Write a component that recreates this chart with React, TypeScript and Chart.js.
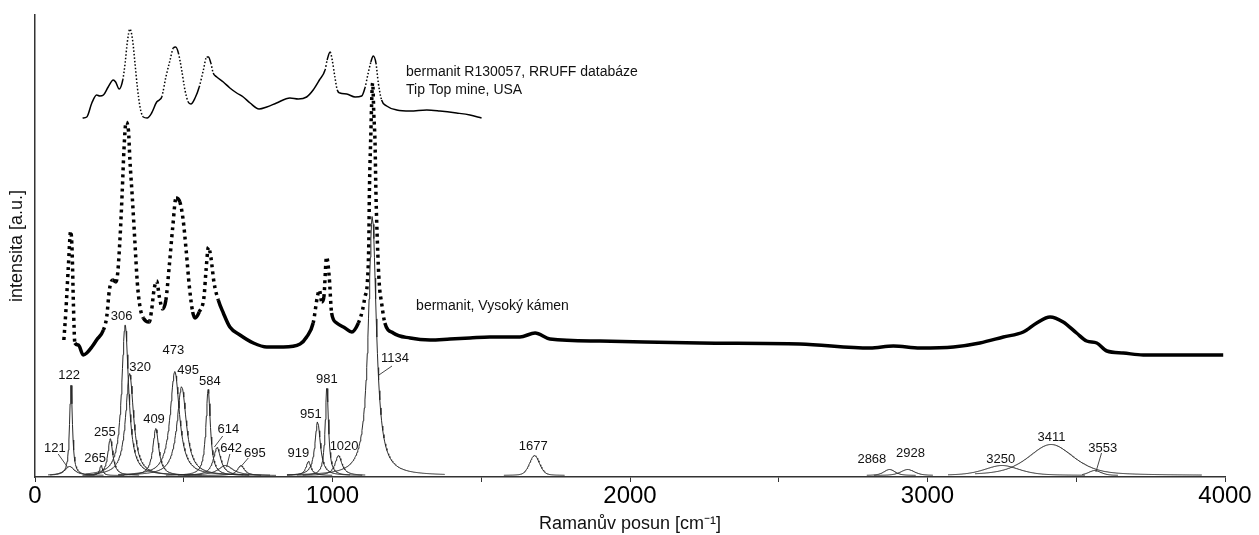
import React, { useEffect, useRef } from 'react';
import { Chart, registerables } from 'chart.js';

Chart.register(...registerables);

const FONT = '"Liberation Sans", Arial, Helvetica, sans-serif';

// ---- axis ----
const xTickValues = [0, 1000, 2000, 3000, 4000];
const xMinorStep = 500;
const xRange = [0, 4000];
const yRange = [0, 462];

// ---- RRUFF reference spectrum: [Raman shift cm-1, intensity a.u.] ----
const rruffSpectrum: number[][] = [
  [160, 359], [174, 360], [191, 374], [207, 382], [218, 381], [230, 382], [246, 390], [263, 397],
  [271, 395], [283, 388], [295, 397], [303, 414], [310, 434], [319, 448], [328, 437], [336, 414],
  [344, 390], [353, 370], [364, 360], [377, 359], [392, 364], [409, 375], [418, 377], [426, 380],
  [440, 400], [454, 417], [465, 429], [473, 430], [482, 424], [493, 407], [504, 387], [515, 375],
  [524, 373], [538, 379], [552, 390], [566, 407], [577, 420], [583, 420], [591, 414], [599, 404],
  [611, 400], [633, 395], [655, 389], [678, 384], [700, 380], [723, 374], [753, 368], [779, 370],
  [812, 374], [857, 379], [885, 378], [913, 380], [935, 387], [956, 397], [975, 407], [982, 417],
  [992, 425], [999, 417], [1008, 400], [1016, 387], [1025, 384], [1048, 383], [1076, 380], [1098, 381],
  [1109, 389], [1120, 404], [1129, 415], [1137, 421], [1146, 414], [1154, 394], [1165, 377], [1182, 371],
  [1216, 367], [1261, 366], [1317, 367], [1361, 366], [1417, 364], [1462, 362], [1501, 359],
];

// ---- measured sample spectrum (Vysoký kámen) ----
const sampleSpectrum: number[][] = [
  [97, 137], [104, 167], [112, 210], [120, 246], [125, 224], [129, 174], [134, 134], [146, 132],
  [162, 122], [174, 124], [191, 130], [207, 137], [230, 147], [241, 160], [250, 187], [261, 197],
  [272, 195], [278, 204], [286, 240], [293, 284], [299, 327], [306, 355], [314, 347], [319, 317],
  [327, 280], [336, 234], [344, 194], [353, 170], [364, 159], [384, 155], [392, 167], [400, 187],
  [409, 196], [418, 180], [429, 168], [440, 177], [451, 210], [463, 250], [474, 279], [487, 275],
  [498, 257], [508, 227], [519, 190], [530, 165], [538, 159], [552, 165], [568, 180], [575, 207],
  [583, 230], [591, 220], [602, 194], [616, 177], [633, 164], [655, 150], [689, 142], [734, 134],
  [779, 130], [835, 130], [891, 133], [913, 140], [935, 154], [949, 180], [956, 187], [964, 175],
  [971, 180], [980, 220], [989, 200], [997, 164], [1014, 154], [1042, 149], [1065, 145], [1087, 154],
  [1101, 167], [1109, 180], [1117, 194], [1122, 234], [1124, 284], [1128, 334], [1135, 394], [1139, 362],
  [1143, 334], [1146, 284], [1151, 234], [1157, 194], [1165, 174], [1176, 154], [1204, 144], [1261, 139],
  [1328, 137], [1395, 138], [1462, 139], [1529, 140], [1597, 140], [1630, 140], [1681, 144], [1731, 138],
  [1899, 136], [2235, 134], [2571, 133], [2807, 129], [2885, 131], [2975, 129], [3087, 130], [3176, 134],
  [3255, 140], [3322, 145], [3367, 154], [3412, 160], [3456, 155], [3501, 144], [3535, 136], [3569, 134],
  [3603, 126], [3658, 124], [3725, 122], [3815, 122], [3994, 122],
];

// ---- fitted band components ----
const bandLabels = ['121', '122', '265', '255', '306', '320', '409', '473', '495', '584', '614', '642', '695',
  '919', '951', '981', '1020', '1134', '1677', '2868', '2928', '3250', '3411', '3553'];
const bandCenters = [116, 121, 222, 253, 303, 318, 406, 470, 493, 582, 612, 640, 692,
  919, 950, 981, 1020, 1134, 1679, 2872, 2933, 3250, 3415, 3562];
const bandHeights = [9, 93, 10, 37, 151, 102, 47, 104, 89, 86, 28, 10, 10,
  14, 54, 89, 20, 260, 20, 6, 6, 10, 31, 5];
const bandWidths = [40, 11, 12, 20, 28, 32, 24, 38, 38, 18, 30, 60, 28,
  20, 22, 13, 28, 32, 40, 45, 55, 140, 180, 50];
const bandLorentz = [1, 1, 1, 1, 1, 1, 1, 1, 1, 1, 1, 1, 1,
  1, 1, 1, 1, 1, 0.3, 0.5, 0.5, 0.5, 0.5, 0.5];
const bandFrom = [44, 50, 160, 170, 170, 200, 280, 280, 300, 440, 480, 500, 560,
  847, 847, 880, 900, 847, 1576, 2796, 2820, 3069, 3160, 3520];
const bandTo = [230, 200, 300, 350, 520, 560, 560, 700, 720, 720, 760, 790, 810,
  1000, 1060, 1100, 1110, 1378, 1780, 2960, 3018, 3530, 3923, 3640];
const bandBaseline = 1.5;

const spectrumCaptions = ['bermanit R130057, RRUFF databáze', 'Tip Top mine, USA', 'bermanit, Vysoký kámen'];

// ---- annotation layout (data coordinates) ----
const bandLabelPos = [[67, 29], [115, 102], [202, 19], [235, 45], [291, 161], [353, 110], [400, 58], [465, 127],
  [515, 107], [588, 96], [650, 48], [659, 29], [739, 24], [885, 24], [927, 63], [981, 98], [1039, 31],
  [1210, 119], [1675, 31], [2813, 18], [2943, 24], [3246, 18], [3417, 40], [3589, 29]];
const bandLeaders: Record<number, number[][]> = {
  0: [[78, 23], [109, 10]],
  10: [[631, 41], [603, 30]],
  11: [[655, 23], [644, 10]],
  12: [[717, 19], [691, 10]],
  17: [[1200, 111], [1156, 102]],
  23: [[3585, 24], [3566, 5]],
};
const captionPos = [[1247, 401], [1247, 383], [1281, 167]];

function bandValue(i: number, x: number): number {
  const t = (x - bandCenters[i]) / (bandWidths[i] / 2);
  const lor = 1 / (1 + t * t);
  const gau = Math.exp(-Math.LN2 * t * t);
  const eta = bandLorentz[i];
  return bandBaseline + bandHeights[i] * (eta * lor + (1 - eta) * gau);
}

function bandCurve(i: number) {
  const pts: { x: number; y: number }[] = [];
  for (let x = bandFrom[i]; x <= bandTo[i]; x += 2) pts.push({ x, y: bandValue(i, x) });
  return pts;
}

const steepDash = (dash: number[]) => (ctx: any) => {
  const dx = Math.abs(ctx.p1.x - ctx.p0.x);
  const dy = Math.abs(ctx.p1.y - ctx.p0.y);
  return dy > 3 * dx ? dash : undefined;
};

const annotationPlugin = {
  id: 'bandAnnotations',
  afterDatasetsDraw(chart: any) {
    const { ctx } = chart;
    const xs = chart.scales.x;
    const ys = chart.scales.y;
    ctx.save();
    ctx.strokeStyle = '#333';
    ctx.lineWidth = 0.9;
    Object.keys(bandLeaders).forEach((k) => {
      const pts = bandLeaders[+k];
      ctx.beginPath();
      ctx.moveTo(xs.getPixelForValue(pts[0][0]), ys.getPixelForValue(pts[0][1]));
      ctx.lineTo(xs.getPixelForValue(pts[1][0]), ys.getPixelForValue(pts[1][1]));
      ctx.stroke();
    });
    ctx.fillStyle = '#111';
    ctx.font = `13px ${FONT}`;
    ctx.textAlign = 'center';
    ctx.textBaseline = 'middle';
    bandLabels.forEach((t, i) => {
      ctx.fillText(t, xs.getPixelForValue(bandLabelPos[i][0]), ys.getPixelForValue(bandLabelPos[i][1]));
    });
    ctx.font = `14px ${FONT}`;
    ctx.textAlign = 'left';
    ctx.textBaseline = 'alphabetic';
    spectrumCaptions.forEach((t, i) => {
      ctx.fillText(t, xs.getPixelForValue(captionPos[i][0]), ys.getPixelForValue(captionPos[i][1]));
    });
    ctx.restore();
  },
};

export default function App() {
  const ref = useRef<HTMLCanvasElement>(null);

  useEffect(() => {
    if (!ref.current) return;
    Chart.defaults.font.family = FONT;
    const bandSets = bandLabels.map((_, i) => ({
      label: 'band ' + bandLabels[i],
      data: bandCurve(i),
      borderColor: '#2a2a2a',
      borderWidth: 1,
      pointRadius: 0,
      tension: 0,
      fill: false,
    }));
    const chart = new Chart(ref.current, {
      type: 'line',
      data: {
        datasets: [
          ...bandSets,
          {
            label: 'bermanit R130057',
            data: rruffSpectrum.map(([x, y]) => ({ x, y })),
            borderColor: '#000',
            borderWidth: 1.5,
            pointRadius: 0,
            cubicInterpolationMode: 'monotone',
            segment: { borderDash: steepDash([1.5, 2]) },
          },
          {
            label: 'bermanit, Vysoký kámen',
            data: sampleSpectrum.map(([x, y]) => ({ x, y })),
            borderColor: '#000',
            borderWidth: 3.5,
            pointRadius: 0,
            cubicInterpolationMode: 'monotone',
            segment: { borderDash: steepDash([3, 4]) },
          },
        ] as any,
      },
      options: {
        animation: false,
        responsive: true,
        maintainAspectRatio: false,
        layout: { padding: { left: 0, right: 34, top: 15, bottom: 0 } },
        plugins: { legend: { display: false }, tooltip: { enabled: false } },
        events: [],
        scales: {
          x: {
            type: 'linear',
            min: xRange[0],
            max: xRange[1],
            afterFit: (s: any) => { s.height = 58; },
            ticks: {
              stepSize: xMinorStep,
              autoSkip: false,
              maxRotation: 0,
              padding: 0,
              color: '#000',
              font: { size: 24 },
              callback: (v: any) => (xTickValues.includes(Number(v)) ? String(v) : ''),
            },
            grid: { display: true, drawOnChartArea: false, drawTicks: true, tickLength: 5, color: '#333', lineWidth: 1 },
            border: { display: true, color: '#333', width: 1.5 },
            title: {
              display: true,
              text: 'Ramanův posun [cm⁻¹]',
              color: '#111',
              font: { size: 18 },
              padding: { top: 0, bottom: 0 },
            },
          },
          y: {
            type: 'linear',
            min: yRange[0],
            max: yRange[1],
            afterFit: (s: any) => { s.width = 35; },
            ticks: { display: false },
            grid: { display: false },
            border: { display: true, color: '#333', width: 1.5 },
            title: {
              display: true,
              text: 'intensita [a.u.]',
              color: '#111',
              font: { size: 18 },
              padding: { top: 6, bottom: 0 },
            },
          },
        },
      } as any,
      plugins: [annotationPlugin],
    });
    return () => chart.destroy();
  }, []);

  return (
    <div style={{ position: 'absolute', left: 0, top: 0, width: 1259, height: 535, background: '#fff' }}>
      <canvas ref={ref} />
    </div>
  );
}
